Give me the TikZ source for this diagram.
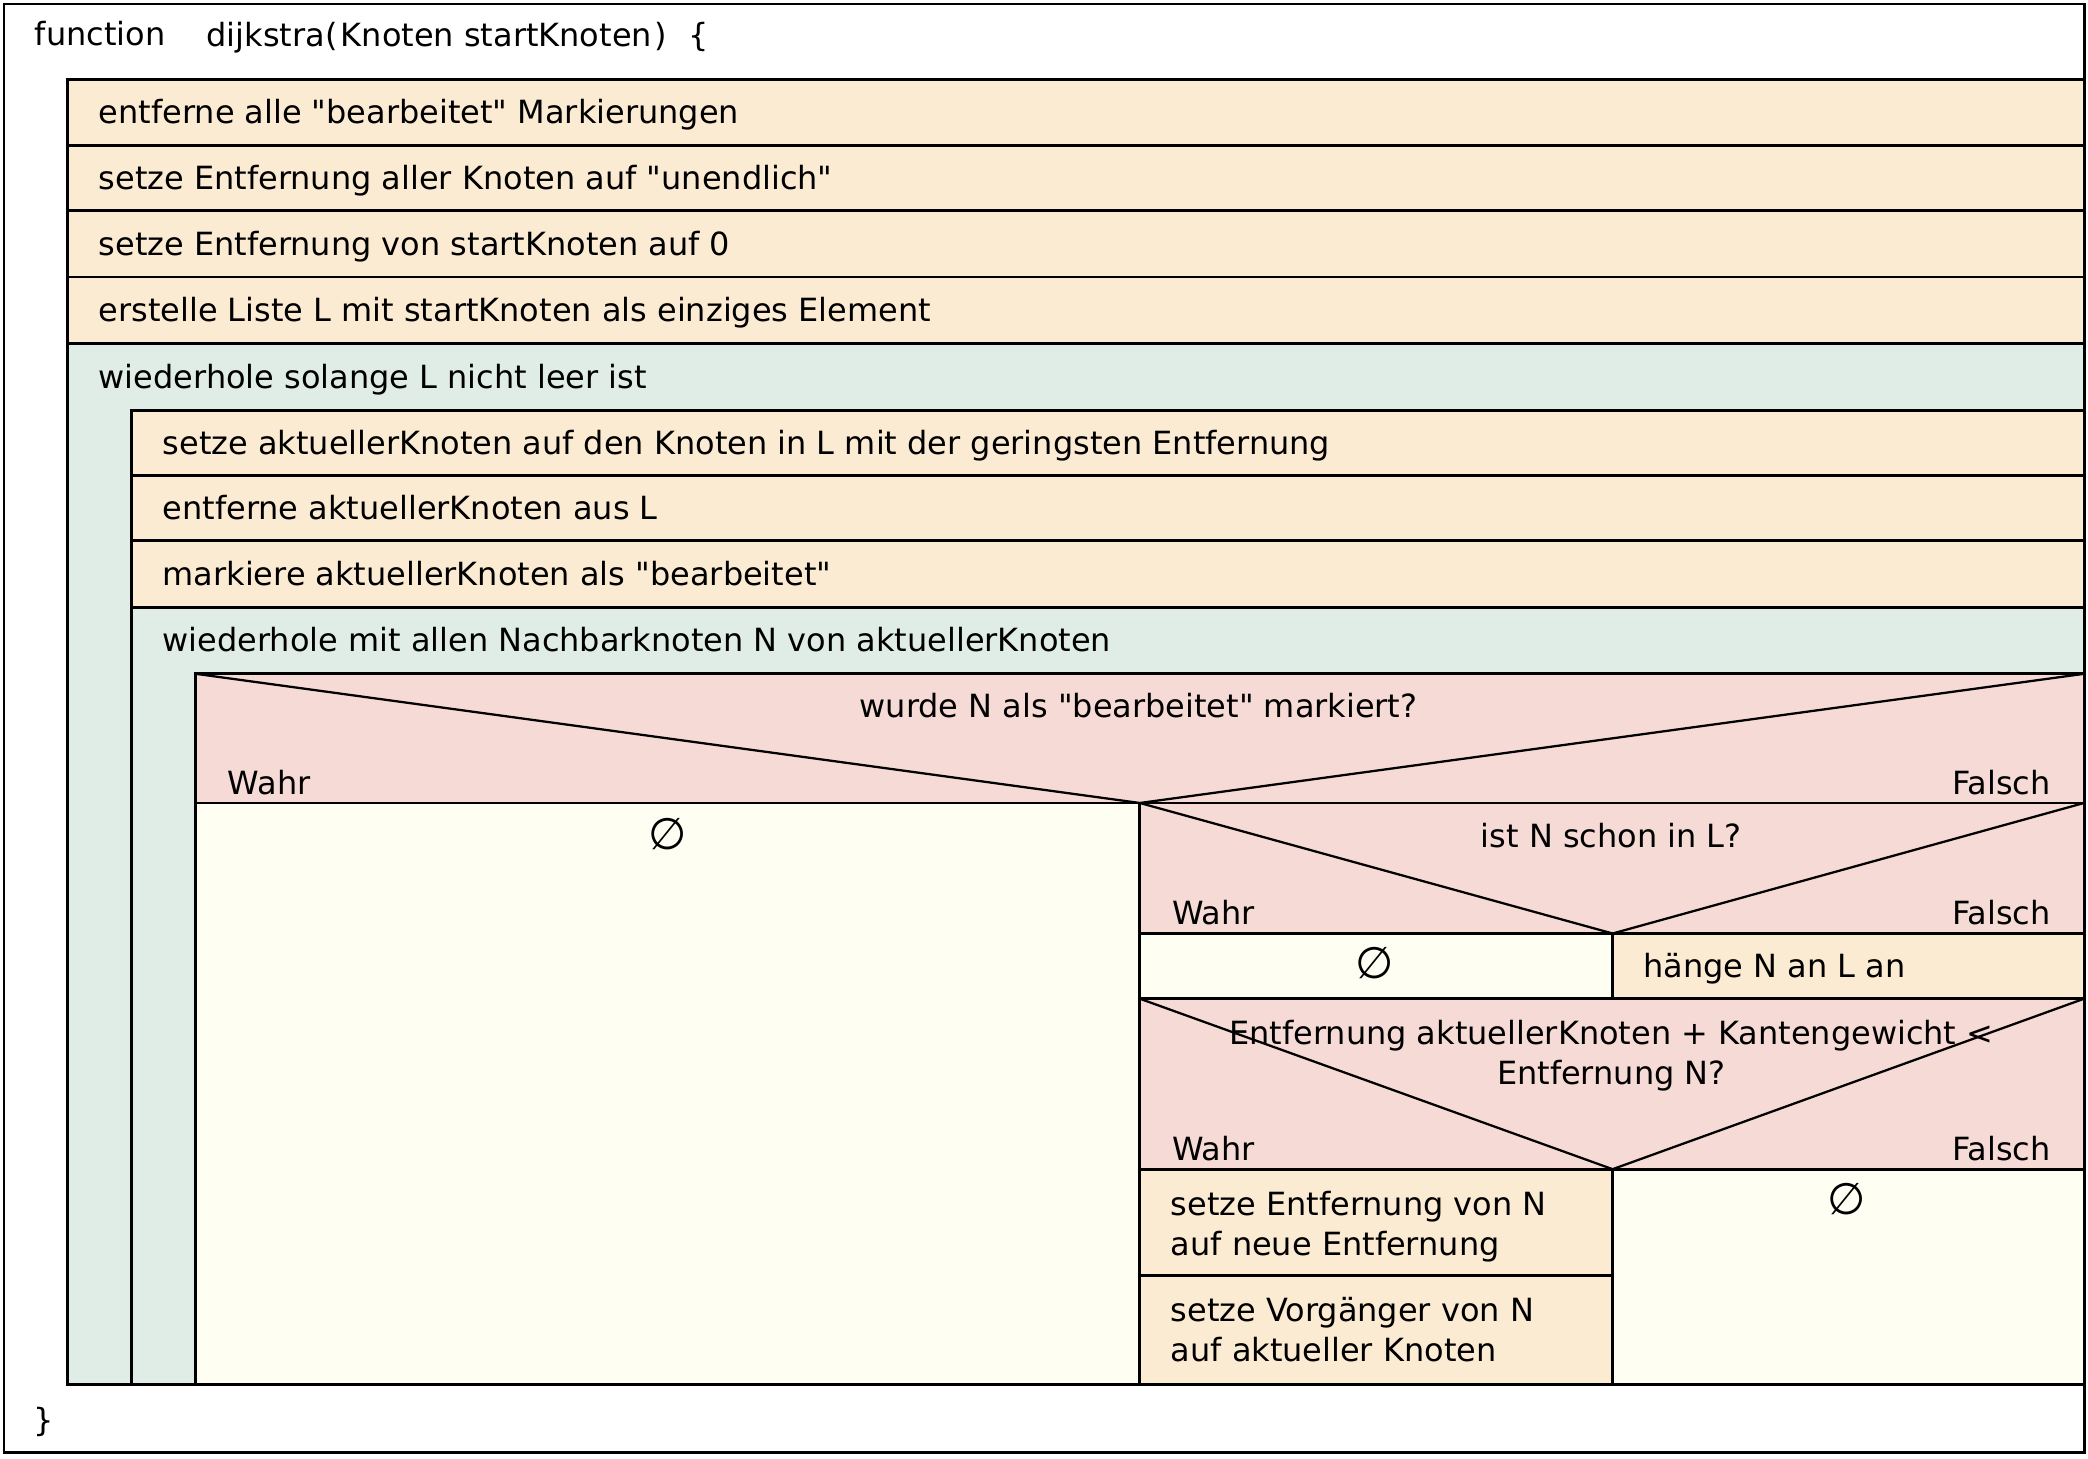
\documentclass[tikz,border=0pt]{standalone}
\usepackage{fontspec}
\newfontfamily\dv{DejaVu Sans}
\definecolor{beige}{HTML}{FCEBD3}
\definecolor{loopg}{HTML}{DFEDE6}
\definecolor{pinkd}{HTML}{F6DAD5}
\definecolor{ivoryy}{HTML}{FFFEF2}
\begin{document}
\begin{tikzpicture}[x=1pt,y=-1pt,
  bx/.style={draw=black,line width=2.2pt},
  diag/.style={draw=black,line width=1.7pt},
  fnt/.style={font=\dv\fontsize{24}{30}\selectfont},
  lt/.style={fnt,anchor=base west,inner sep=0pt},
  rt/.style={fnt,anchor=base east,inner sep=0pt},
  ct/.style={fnt,anchor=base,inner sep=0pt},
  mt/.style={fnt,anchor=center,inner sep=0pt},
  empt/.style={font=\dv\fontsize{33}{36}\selectfont,anchor=center,inner sep=0pt}]
\useasboundingbox (0,0) rectangle (1568,1095);
% outer frame
\path[bx,fill=white] (3,3) rectangle (1565.5,1091);
% outer loop region
\path[bx,fill=loopg] (51,258) rectangle (1565,1040);
% simple statements
\path[bx,fill=beige] (51,60) rectangle (1565,109);
\path[bx,fill=beige] (51,109) rectangle (1565,158);
\path[bx,fill=beige] (51,158) rectangle (1565,208);
\path[bx,fill=beige] (51,208) rectangle (1565,258);
% inner loop body
\path[bx,fill=beige] (99,308) rectangle (1565,357);
\path[bx,fill=beige] (99,357) rectangle (1565,406);
\path[bx,fill=beige] (99,406) rectangle (1565,456);
\path[bx,fill=loopg] (99,456) rectangle (1565,1040);
% decision 1
\path[bx,fill=pinkd] (147,506) rectangle (1565,603);
\path[diag] (147,506) -- (856,603) -- (1565,506);
\path[bx,fill=ivoryy] (147,603) rectangle (856,1040);
% decision 2
\path[bx,fill=pinkd] (856,603) rectangle (1565,701);
\path[diag] (856,603) -- (1211,701) -- (1565,603);
\path[bx,fill=ivoryy] (856,701) rectangle (1211,750);
\path[bx,fill=beige] (1211,701) rectangle (1565,750);
% decision 3
\path[bx,fill=pinkd] (856,750) rectangle (1565,878);
\path[diag] (856,750) -- (1211,878) -- (1565,750);
\path[bx,fill=beige] (856,878) rectangle (1211,958);
\path[bx,fill=beige] (856,958) rectangle (1211,1040);
\path[bx,fill=ivoryy] (1211,878) rectangle (1565,1040);
% redraw loop outline on top
\path[bx] (51,258) rectangle (1565,1040);

% texts
\node[lt] (fn) at (26,34.5) {function};
\node[lt] (sig) at (155,35) {dijkstra(\kern2.5pt Knoten startKnoten\kern2pt)\kern16pt\{};
\node[lt] (s1) at (74,93) {entferne alle "bearbeitet" Markierungen};
\node[lt] (s2) at (74,142) {setze Entfernung aller Knoten auf "unendlich"};
\node[lt] (s3) at (74,191.5) {setze Entfernung von startKnoten auf 0};
\node[lt] (s4) at (74,241.5) {erstelle Liste L mit startKnoten als einziges Element};
\node[lt] (w1) at (74,291.5) {wiederhole solange L nicht leer ist};
\node[lt] (s5) at (122,341) {setze aktuellerKnoten auf den Knoten in L mit der geringsten Entfernung};
\node[lt] (s6) at (122,390) {entferne aktuellerKnoten aus L};
\node[lt] (s7) at (122,440) {markiere aktuellerKnoten als "bearbeitet"};
\node[lt] (w2) at (122,489.5) {wiederhole mit allen Nachbarknoten N von aktuellerKnoten};
\node[ct] (d1) at (855,538.5) {wurde N als "bearbeitet" markiert?};
\node[lt] (d1w) at (171,596.5) {Wahr};
\node[rt] (d1f) at (1540,596.5) {Falsch};
\node[empt] (e1) at (501,626) {∅};
\node[ct] (d2) at (1210,636.5) {ist N schon in L?};
\node[lt] (d2w) at (880,694.5) {Wahr};
\node[rt] (d2f) at (1540,694.5) {Falsch};
\node[empt] (e2) at (1032,723.5) {∅};
\node[lt] (s8) at (1234,734) {hänge N an L an};
\node[mt,align=center] (d3) at (1210,793) {Entfernung aktuellerKnoten + Kantengewicht <\\Entfernung N?};
\node[lt] (d3w) at (880,871.5) {Wahr};
\node[rt] (d3f) at (1540,871.5) {Falsch};
\node[anchor=west,fnt,inner sep=0pt,align=left] (s9) at (879,921) {setze Entfernung von N\\auf neue Entfernung};
\node[anchor=west,fnt,inner sep=0pt,align=left] (s10) at (879,998.5) {setze Vorgänger von N\\auf aktueller Knoten};
\node[empt] (e3) at (1387,900.5) {∅};
\node[mt] (close) at (33,1068) {\}};
\end{tikzpicture}
\end{document}
